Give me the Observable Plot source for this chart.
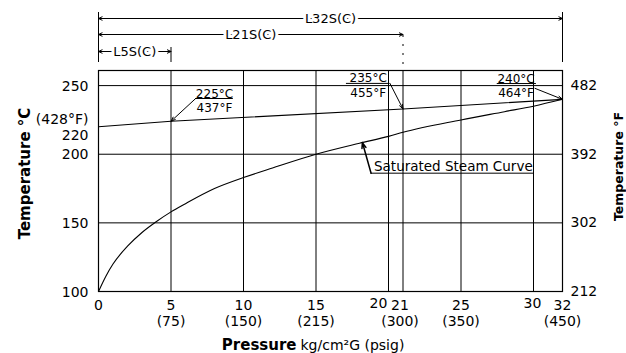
<!DOCTYPE html>
<html><head><meta charset="utf-8">
<script src="https://cdn.jsdelivr.net/npm/d3@7"></script>
<script src="https://cdn.jsdelivr.net/npm/@observablehq/plot@0.6"></script>
<style>body{margin:0;background:#fff}svg{display:block}</style>
</head><body><div id="chart"></div>
<script>
// ---- data ----
const pressure = [0, 0.5, 1, 2, 3, 4, 5, 6, 8, 10, 12, 15, 18, 20, 21, 25, 28, 30, 32];
const satTemp  = [100, 111, 120, 133, 143, 151, 158, 164, 175, 183, 190, 200, 208, 213, 216, 225, 231, 235, 240];
const maxP = [0, 5, 21, 32];
const maxT = [220, 224, 233, 240];
const annC = ["225°C", "235°C", "240°C"];
const annF = ["437°F", "455°F", "464°F"];
const modelNames = ["L32S(C)", "L21S(C)", "L5S(C)"];
const modelMaxP = [32, 21, 5];
const xTicks = [0, 5, 10, 15, 20, 21, 25, 30, 32];
const xPsig  = ["", "(75)", "(150)", "(215)", "", "(300)", "(350)", "", "(450)"];
const yTicksC = [100, 150, 200, 220, 250];
const fTickC = [100, 150, 200, 250];
const fTickLabels = ["212", "302", "392", "482"];
const gridP = [5, 10, 15, 20, 21, 25, 30];
const gridC = [150, 200, 250];

// ---- layout (annotation placement) ----
const yMax = 261;
const annLabX = [8.0, 18.6, 28.8];
const annDivY = [240.6, 251.6, 251.5];
const annDivX1 = [6.7, 17.1, 27.5];
const annDivX2 = [9.3, 20.1, 30.2];
const annLeadX = [6.7, 20.1, 30.1];
const annLeadY = [240.6, 251.6, 248.0];
const rowDy = [-52, -36, -19];

const ann = annC.map((c, i) => ({c, f: annF[i], x: annLabX[i], y: annDivY[i], x1: annDivX1[i], x2: annDivX2[i],
  lx: annLeadX[i], ly: annLeadY[i], px: maxP[i + 1], pt: maxT[i + 1]}));
const rows = modelNames.map((name, i) => ({name, end: modelMaxP[i]}));

const marks = [
  Plot.ruleX(gridP, {stroke: "black", strokeWidth: 1}),
  Plot.ruleY(gridC, {stroke: "black", strokeWidth: 1}),
  Plot.frame({stroke: "black", strokeWidth: 1.2}),
  Plot.line(maxP.map((p, i) => ({p, t: maxT[i]})), {x: "p", y: "t", stroke: "black", strokeWidth: 1.1}),
  Plot.line(pressure.map((p, i) => ({p, t: satTemp[i]})), {x: "p", y: "t", stroke: "black", strokeWidth: 1.1, curve: "monotone-x"}),
  // dimension extension lines
  Plot.ruleX([0, 32], {stroke: "black", insetTop: -58, insetBottom: 229}),
  Plot.ruleX([5], {stroke: "black", insetTop: -23, insetBottom: 229}),
  Plot.ruleX([21], {stroke: "black", insetTop: -35, insetBottom: 221, strokeDasharray: "2,7"}),
];
rows.forEach((r, i) => {
  marks.push(
    Plot.arrow([r], {x1: d => d.end / 2, x2: () => 0, y1: () => yMax, y2: () => yMax, dy: rowDy[i], stroke: "black", strokeWidth: 1, headLength: 6, headAngle: 50}),
    Plot.arrow([r], {x1: d => d.end / 2, x2: d => d.end, y1: () => yMax, y2: () => yMax, dy: rowDy[i], stroke: "black", strokeWidth: 1, headLength: 6, headAngle: 50}),
    Plot.text([r], {x: d => d.end / 2, y: () => yMax, text: "name", dy: rowDy[i], fontSize: 13, fill: "black", stroke: "white", strokeWidth: 6})
  );
});
marks.push(
  // temperature annotations
  Plot.ruleY(ann, {y: "y", x1: "x1", x2: "x2", stroke: "black"}),
  Plot.text(ann, {x: "x", y: "y", text: "c", lineAnchor: "bottom", dy: -1, fontSize: 12}),
  Plot.text(ann, {x: "x", y: "y", text: "f", lineAnchor: "top", dy: 5, fontSize: 12}),
  Plot.arrow(ann, {x1: "lx", y1: "ly", x2: "px", y2: "pt", stroke: "black", strokeWidth: 1, headLength: 7, headAngle: 40}),
  // saturated steam label
  Plot.ruleY([186.2], {x1: 18.8, x2: 30.0, stroke: "black"}),
  Plot.arrow([0], {x1: () => 18.8, y1: () => 186.2, x2: () => 18.2, y2: () => 208.5, stroke: "black", headLength: 6, headAngle: 40}),
  Plot.text(["Saturated Steam Curve"], {x: () => 19.0, y: () => 186.2, text: d => d, textAnchor: "start", lineAnchor: "bottom", dy: -2, fontSize: 13.5}),
  // axes
  Plot.axisY(yTicksC, {anchor: "left", tickSize: 0, tickPadding: 10, fontSize: 14, lineHeight: 1.12,
    tickFormat: d => d === 220 ? "(428°F)\n220" : String(d), label: null}),
  Plot.axisY(fTickC, {anchor: "right", tickSize: 0, tickPadding: 8, fontSize: 14,
    tickFormat: d => fTickLabels[fTickC.indexOf(d)], label: null}),
  Plot.axisX([0, 5, 10, 15, 25, 32], {anchor: "bottom", tickSize: 0, tickPadding: 7, fontSize: 14, lineHeight: 1.15,
    tickFormat: d => { const s = xPsig[xTicks.indexOf(d)]; return s ? d + "\n" + s : String(d); }, label: null}),
  Plot.axisX([20], {anchor: "bottom", tickSize: 0, tickPadding: 7, fontSize: 14, dx: -10, tickFormat: d => String(d), label: null}),
  Plot.axisX([21], {anchor: "bottom", tickSize: 0, tickPadding: 7, fontSize: 14, lineHeight: 1.15, dx: -3,
    tickFormat: d => d + "\n" + xPsig[xTicks.indexOf(d)], label: null}),
  Plot.axisX([30], {anchor: "bottom", tickSize: 0, tickPadding: 7, fontSize: 14, dx: -1, tickFormat: d => String(d), label: null}),
  // axis titles
  Plot.text(["Temperature °C"], {frameAnchor: "left", textAnchor: "middle", lineAnchor: "middle", rotate: -90, dx: -73, dy: -7.5, fontWeight: "bold", fontSize: 15}),
  Plot.text(["Temperature °F"], {frameAnchor: "right", textAnchor: "middle", lineAnchor: "middle", rotate: -90, dx: 56, dy: -14.5, fontWeight: "bold", fontSize: 12.5}),
  Plot.text(["Pressure"], {frameAnchor: "bottom", textAnchor: "end", lineAnchor: "middle", dx: -34, dy: 54, fontWeight: "bold", fontSize: 15}),
  Plot.text(["kg/cm²G (psig)"], {frameAnchor: "bottom", textAnchor: "start", lineAnchor: "middle", dx: -30, dy: 54, fontSize: 14})
);

const chart = Plot.plot({
  width: 626, height: 353,
  marginLeft: 98, marginRight: 64, marginTop: 70, marginBottom: 62,
  style: {fontFamily: "DejaVu Sans", fontSize: "14px", color: "black", background: "white"},
  x: {domain: [0, 32]},
  y: {domain: [100, yMax]},
  marks
});
document.getElementById("chart").append(chart);
</script>
</body></html>
